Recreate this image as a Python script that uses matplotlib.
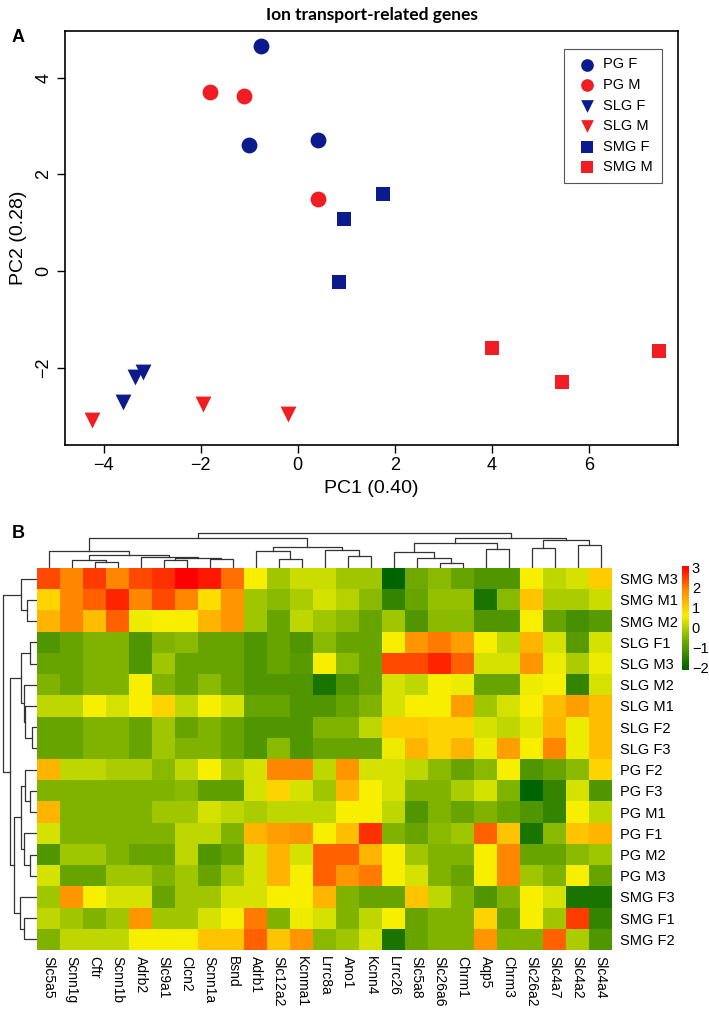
import numpy as np
import matplotlib
matplotlib.use("Agg")
import matplotlib.pyplot as plt
from matplotlib.colors import LinearSegmentedColormap, Normalize

plt.rcParams['font.family'] = ['Liberation Sans', 'DejaVu Sans']

# ---------------- panel A data ----------------
GROUPS = ["PG F", "PG M", "SLG F", "SLG M", "SMG F", "SMG M"]
PC1 = {
    "PG F": [-0.75, -1.0, 0.42],
    "PG M": [-1.8, -1.1, 0.42],
    "SLG F": [-3.6, -3.35, -3.2],
    "SLG M": [-4.25, -1.95, -0.2],
    "SMG F": [0.95, 1.75, 0.85],
    "SMG M": [4.0, 5.45, 7.45],
}
PC2 = {
    "PG F": [4.65, 2.6, 2.72],
    "PG M": [3.7, 3.63, 1.5],
    "SLG F": [-2.7, -2.2, -2.08],
    "SLG M": [-3.08, -2.75, -2.95],
    "SMG F": [1.08, 1.6, -0.22],
    "SMG M": [-1.6, -2.3, -1.65],
}
NAVY = "#0b1a8c"
RED = "#f01e23"
STYLE = {
    "PG F": ("o", NAVY), "PG M": ("o", RED),
    "SLG F": ("v", NAVY), "SLG M": ("v", RED),
    "SMG F": ("s", NAVY), "SMG M": ("s", RED),
}

# ---------------- panel B data ----------------
genes = ["Slc5a5", "Scnn1g", "Cftr", "Scnn1b", "Adrb2", "Slc9a1", "Clcn2", "Scnn1a",
         "Bsnd", "Adrb1", "Slc12a2", "Kcnma1", "Lrrc8a", "Ano1", "Kcnn4", "Lrrc26",
         "Slc5a8", "Slc26a6", "Chrm1", "Aqp5", "Chrm3", "Slc26a2", "Slc4a7", "Slc4a2", "Slc4a4"]
samples = ["SMG M3", "SMG M1", "SMG M2", "SLG F1", "SLG M3", "SLG M2", "SLG M1", "SLG F2",
           "SLG F3", "PG F2", "PG F3", "PG M1", "PG F1", "PG M2", "PG M3", "SMG F3", "SMG F1", "SMG F2"]

z = np.array([
    [2.4, 1.9, 2.5, 1.9, 2.4, 2.6, 3.0, 2.8, 2.1, 0.6, -0.2, 0.2, 0.2, -0.2, -0.2, -2.0, -0.7, -0.4, -0.8, -1.1, -1.1, 0.6, 0.1, 0.3, 1.0],
    [0.9, 1.9, 2.2, 2.7, 1.9, 2.4, 1.9, 0.8, 1.7, -0.2, -0.4, -0.1, 0.3, 0.0, -0.4, -1.4, -0.8, -0.3, -0.3, -1.7, -0.4, 1.1, -0.1, -0.1, 0.2],
    [1.3, 1.9, 1.2, 2.2, 0.5, 0.6, 0.6, 1.3, 1.7, -0.2, -0.8, 0.1, -0.2, -0.4, -0.8, -0.2, -1.1, -0.4, -0.4, -1.1, -1.1, 0.6, -0.8, -1.2, -1.0],
    [-1.1, -0.8, -0.5, -0.5, -1.1, -0.5, -0.4, -0.8, -0.8, -1.1, -0.8, -1.1, -0.4, -0.8, -0.8, 0.6, 1.7, 2.0, 1.6, 0.6, 0.1, 1.3, 0.3, -1.0, 0.3],
    [-0.8, -0.8, -0.5, -0.5, -1.1, -0.2, -0.8, -0.8, -0.8, -1.1, -0.8, -1.0, 0.6, -0.4, -0.8, 2.4, 2.4, 2.7, 2.2, 0.3, 0.3, 1.7, 0.5, -0.1, 0.5],
    [-0.5, -0.8, -0.5, -0.5, 0.6, -0.5, -0.8, -0.4, -0.8, -1.1, -1.1, -1.1, -1.7, -1.1, -0.8, 0.3, 0.1, 0.6, 0.5, -0.8, -0.8, 0.5, 0.6, -1.4, 0.3],
    [0.1, 0.1, 0.6, 0.3, 0.6, 0.9, 0.1, 0.6, 0.3, -0.8, -0.8, -1.1, -1.1, -0.8, -0.5, 0.3, 0.6, 0.6, 1.6, -0.2, 0.3, 0.6, 1.2, 1.6, 1.2],
    [-0.8, -0.8, -0.5, -0.5, -0.8, -0.2, -0.8, -0.5, -0.8, -1.1, -1.1, -1.1, -0.5, -0.5, 0.1, 1.0, 1.0, 0.9, 0.9, 0.3, 0.1, 0.4, 1.3, 0.5, 1.2],
    [-0.8, -0.8, -0.5, -0.5, -0.8, -0.2, -0.5, -0.5, -0.8, -1.1, -0.4, -1.1, -0.8, -0.8, -0.8, 0.5, 1.3, 0.9, 1.3, 0.5, 1.6, 0.6, 1.9, 0.5, 1.2],
    [1.3, 0.1, 0.1, -0.1, -0.1, -0.4, 0.1, 0.6, -0.1, 0.3, 1.9, 1.9, 0.1, 1.7, 0.3, 0.3, 0.1, -0.4, -0.8, -0.4, 0.6, -1.1, -0.8, -0.4, 0.9],
    [-0.5, -0.5, -0.5, -0.5, -0.5, -0.5, -0.4, -0.9, -0.9, 0.3, 0.9, 0.3, -0.2, 1.3, 0.6, 0.3, -0.5, -0.5, -0.1, 0.3, -0.5, -2.0, -1.4, 0.3, -1.1],
    [1.3, -0.5, -0.5, -0.5, -0.5, -0.2, -0.2, 0.3, 0.1, -0.1, 0.1, 0.1, 0.1, 0.6, 0.6, 0.1, -1.1, -0.5, -0.8, -0.5, -0.8, -1.1, -1.4, 0.6, 0.1],
    [0.3, -0.5, -0.5, -0.5, -0.5, -0.5, 0.1, 0.1, -0.5, 1.3, 1.6, 1.7, 0.6, 1.2, 2.6, -0.5, -0.8, -0.4, -0.2, 2.2, 1.1, -1.7, -0.4, 1.1, 1.3],
    [-1.1, -0.2, -0.2, -0.5, -0.8, -0.8, 0.1, -1.1, -0.8, 0.3, 1.3, 0.3, 2.2, 2.2, 1.3, 0.6, -0.2, -0.5, -0.5, 0.6, 1.9, -0.8, -0.8, -0.4, -0.2],
    [0.3, -0.8, -0.8, -0.2, -0.2, -0.5, -0.2, -0.8, -0.2, 0.3, 1.3, 0.6, 2.2, 1.7, 2.0, 0.6, 0.3, -0.5, -0.8, 0.6, 1.9, -0.2, -0.5, 0.6, -0.8],
    [-0.2, 1.7, 0.6, 0.3, 0.3, -0.8, -0.2, -0.2, 0.3, 0.3, 0.6, 0.6, 1.3, -0.5, -0.8, -0.8, 1.1, 0.1, -0.5, -1.1, -0.5, 0.6, 0.3, -1.7, -1.7],
    [0.1, -0.2, -0.5, -0.2, 1.7, -0.2, -0.2, 0.3, 0.6, 2.0, -0.5, 0.5, 0.3, -0.5, 0.1, 0.6, -0.8, -0.5, -0.5, 0.9, -0.8, 0.6, -0.2, 2.5, -1.4],
    [-0.5, 0.1, 0.1, 0.1, 0.6, 0.6, 0.6, 1.1, 1.1, 2.2, 1.1, 1.7, -0.4, -0.2, 0.3, -1.7, -0.8, -0.5, -0.5, 1.7, -0.5, -0.5, 2.2, -0.1, -1.1],
])

# dendrograms: (height, left, right), leaves are column / row positions
col_tree = (106,
            (90,
             (50, 0, (40, (25, 1, (18, 2, 3)), (33, 4, (31, (25, 5, 6), (28, 7, 8))))),
             (63, (50, 9, (28, 10, 11)), (53, 12, (36, 13, 14)))),
            (91,
             (76, (48, 15, (31, 16, (16, 17, 18))), (56, 19, 20)),
             (83, (60, 21, 22), (68, 23, 24))))
row_tree = (102,
            (48, 0, (30, 1, 2)),
            (80,
             (48, (20, 3, 4), (38, 5, (35, 6, (15, 7, 8)))),
             (68,
              (48, (37, 9, (20, 10, 11)), (40, 12, (22, 13, 14))),
              (52, 15, (38, 16, 17)))))

cmap = LinearSegmentedColormap.from_list("gyr", [
    (0.00, "#006400"), (0.18, "#509600"), (0.30, "#80b400"), (0.42, "#c0d800"),
    (0.52, "#f8f000"), (0.60, "#ffcc00"), (0.78, "#ff8800"), (1.00, "#ff0000")])
norm = Normalize(vmin=-2.0, vmax=3.0)

W, H = 709, 1010
fig = plt.figure(figsize=(W / 100, H / 100), dpi=100)


def box(x0, y0, x1, y1):
    # pixel box (top-left origin) -> figure fraction rect
    return [x0 / W, 1 - y1 / H, (x1 - x0) / W, (y1 - y0) / H]


# ---------------- panel A ----------------
ax = fig.add_axes(box(65, 31, 678, 445))
for g in GROUPS:
    m, c = STYLE[g]
    ax.scatter(PC1[g], PC2[g], marker=m, color=c, s=130 if m != "s" else 100,
               linewidths=0, label=g, zorder=3)
ax.set_xlim(-4.8, 7.84)
ax.set_ylim(-3.6, 4.97)
ax.set_xticks([-4, -2, 0, 2, 4, 6])
ax.set_yticks([-2, 0, 2, 4])
ax.set_xticklabels(["\u22124", "\u22122", "0", "2", "4", "6"])
ax.set_yticklabels(["\u22122", "0", "2", "4"], rotation=90, va="center")
ax.tick_params(labelsize=13, length=6, width=1, pad=3)
for s in ax.spines.values():
    s.set_linewidth(1.2)
ax.set_xlabel("PC1 (0.40)", fontsize=14, labelpad=4)
ax.set_ylabel("PC2 (0.28)", fontsize=14, labelpad=6)
ax.set_title("Ion transport-related genes", fontsize=12.5, fontweight="bold",
             family=["Lato", "DejaVu Sans"], pad=8)
leg = ax.legend(loc="upper right", bbox_to_anchor=(0.985, 0.975), fontsize=10.5,
                frameon=True, fancybox=False, edgecolor="#555555", framealpha=1,
                handletextpad=0.1, borderpad=0.6, labelspacing=0.45, markerscale=0.8)
leg.get_frame().set_linewidth(0.8)
fig.text(12 / W, 1 - 38 / H, "A", fontsize=13, fontweight="bold", va="center")

# ---------------- panel B ----------------
hx0, hx1, hy0, hy1 = 37, 612, 568, 950
axh = fig.add_axes(box(hx0, hy0, hx1, hy1))
axh.imshow(z, cmap=cmap, norm=norm, aspect="auto", interpolation="nearest",
           extent=[0, len(genes), len(samples), 0])
axh.set_xticks(np.arange(len(genes)) + 0.5)
axh.set_xticklabels(genes, rotation=270, fontsize=10)
axh.set_yticks(np.arange(len(samples)) + 0.5)
axh.set_yticklabels(samples, fontsize=10.5)
axh.yaxis.tick_right()
axh.tick_params(axis="y", length=0, pad=6)
axh.tick_params(axis="x", length=0, pad=4)
for s in axh.spines.values():
    s.set_visible(False)


def draw_tree(a, node, top):
    if isinstance(node, int):
        return node + 0.5, 0
    h, l, r = node
    cl, hl = draw_tree(a, l, top)
    cr, hr = draw_tree(a, r, top)
    if top:
        a.plot([cl, cl, cr, cr], [hl, h, h, hr], color="#333333", lw=0.9)
    else:
        a.plot([hl, h, h, hr], [cl, cl, cr, cr], color="#333333", lw=0.9)
    return (cl + cr) / 2, h


axt = fig.add_axes(box(hx0, 532, hx1, hy0))
draw_tree(axt, col_tree, True)
axt.set_xlim(0, len(genes))
axt.set_ylim(0, 108)
axt.axis("off")

axl = fig.add_axes(box(0, hy0, hx0, hy1))
draw_tree(axl, row_tree, False)
axl.set_ylim(len(samples), 0)
axl.set_xlim(111, 0)
axl.axis("off")

axc = fig.add_axes(box(682, 566, 689, 670))
grad = np.linspace(3.05, -2.1, 200).reshape(-1, 1)
axc.imshow(grad, cmap=cmap, norm=norm, aspect="auto", extent=[0, 1, -2.1, 3.05])
axc.set_xticks([])
axc.yaxis.tick_right()
axc.set_yticks([-2, -1, 0, 1, 2, 3])
axc.set_yticklabels(["\u22122", "\u22121", "0", "1", "2", "3"], fontsize=10.5)
axc.tick_params(length=0, pad=2)
for s in axc.spines.values():
    s.set_visible(False)

fig.text(12 / W, 1 - 533 / H, "B", fontsize=13, fontweight="bold", va="center")

fig.savefig("out.png", dpi=100)
